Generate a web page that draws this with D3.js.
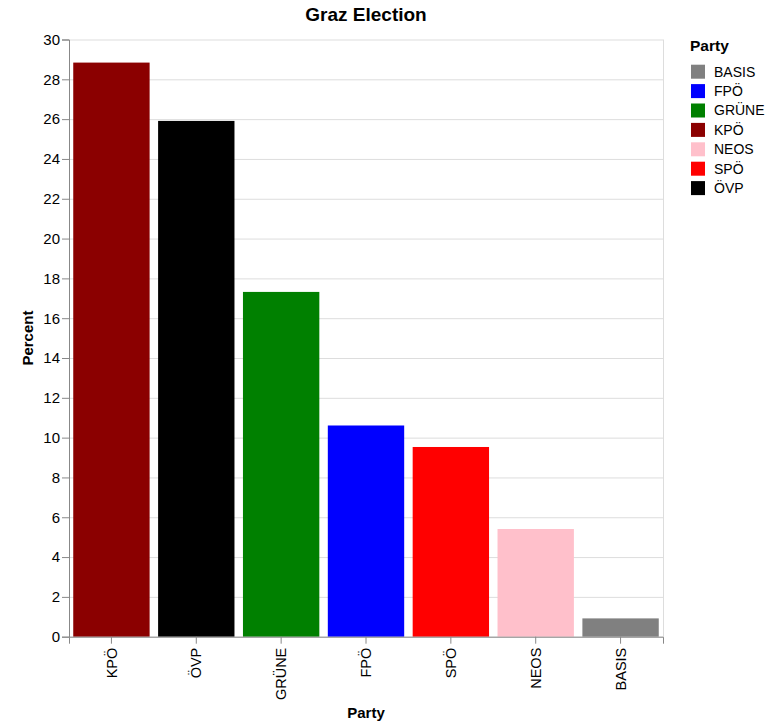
<!DOCTYPE html>
<html><head><meta charset="utf-8">
<script src="https://cdn.jsdelivr.net/npm/d3@7"></script>
<style>body{margin:0;background:#fff;} text{font-family:"Liberation Sans",Arial,Helvetica,sans-serif;}</style>
</head><body>
<svg id="chart" width="779" height="727"></svg>
<script>
const parties = ["KPÖ","ÖVP","GRÜNE","FPÖ","SPÖ","NEOS","BASIS"];
const percents = [28.84,25.91,17.32,10.61,9.53,5.41,0.92];
const colors = {"BASIS":"#808080","FPÖ":"#0000ff","GRÜNE":"#008000","KPÖ":"#8b0000","NEOS":"#ffc0cb","SPÖ":"#ff0000","ÖVP":"#000000"};
const legendOrder = ["BASIS","FPÖ","GRÜNE","KPÖ","NEOS","SPÖ","ÖVP"];
const yTicks = d3.range(0, 31, 2);

const FF = "Liberation Sans, Arial, sans-serif";
const svg = d3.select("#chart");
const m = {left:69, top:39.5, right:663, bottom:636.7};
const x = d3.scaleBand().domain(parties).range([m.left, m.right]).paddingInner(0.1).paddingOuter(0.05);
const y = d3.scaleLinear().domain([0,30]).range([m.bottom, m.top]);

// grid
const g = svg.append("g");
g.selectAll("line.h").data(yTicks).join("line")
  .attr("x1", m.left).attr("x2", m.right)
  .attr("y1", d=>y(d)+0.5).attr("y2", d=>y(d)+0.5)
  .attr("stroke","#ddd").attr("stroke-width",1);
g.append("line").attr("x1",m.right+0.5).attr("x2",m.right+0.5).attr("y1",m.top).attr("y2",m.bottom).attr("stroke","#ddd");

// bars
svg.append("g").selectAll("rect").data(parties).join("rect")
  .attr("x", d=>x(d)).attr("width", x.bandwidth())
  .attr("y", (d,i)=>y(percents[i])).attr("height", (d,i)=>y(0)-y(percents[i]))
  .attr("fill", d=>colors[d]);

// y axis
const yAxis = d3.axisLeft(y).tickValues(yTicks).tickSize(7).tickPadding(2);
const ya = svg.append("g").attr("transform",`translate(${m.left},0)`).call(yAxis);
ya.attr("font-size",null).attr("font-family",null);
ya.select(".domain").attr("stroke","#888");
ya.selectAll(".tick line").attr("stroke","#888");
ya.selectAll("text").style("font-size","15px").attr("fill","#000").style("font-family",FF);

// x axis
const xAxis = d3.axisBottom(x).tickSize(7).tickPadding(3);
const xa = svg.append("g").attr("transform",`translate(0,${m.bottom})`).call(xAxis);
xa.attr("font-size",null).attr("font-family",null);
xa.select(".domain").attr("stroke","#888");
xa.selectAll(".tick line").attr("stroke","#888");
xa.selectAll("text").style("font-size","14.5px").attr("fill","#000")
  .style("font-family",FF)
  .attr("transform","rotate(-90)").attr("text-anchor","end")
  .attr("x",-11).attr("y",0).attr("dy","0.35em");

// titles
svg.append("text").attr("x",366).attr("y",21).attr("text-anchor","middle")
  .style("font-size","19px").attr("font-weight","bold").text("Graz Election");
svg.append("text").attr("x",366).attr("y",718).attr("text-anchor","middle")
  .style("font-size","15px").attr("font-weight","bold").text("Party");
svg.append("text").attr("transform",`translate(33,${(m.top+m.bottom)/2}) rotate(-90)`)
  .attr("text-anchor","middle").style("font-size","15px").attr("font-weight","bold").text("Percent");

// legend
const lg = svg.append("g").attr("transform","translate(690,0)");
lg.append("text").attr("x",0).attr("y",51).style("font-size","15.5px").attr("font-weight","bold").text("Party");
const row = lg.selectAll("g.r").data(legendOrder).join("g")
  .attr("transform",(d,i)=>`translate(0,${71.7 + i*19.4})`);
row.append("rect").attr("x",1).attr("y",-7).attr("width",14).attr("height",14).attr("fill",d=>colors[d]);
row.append("text").attr("x",24).attr("y",0).attr("dy","0.35em").style("font-size","14px").text(d=>d);
</script>
</body></html>
